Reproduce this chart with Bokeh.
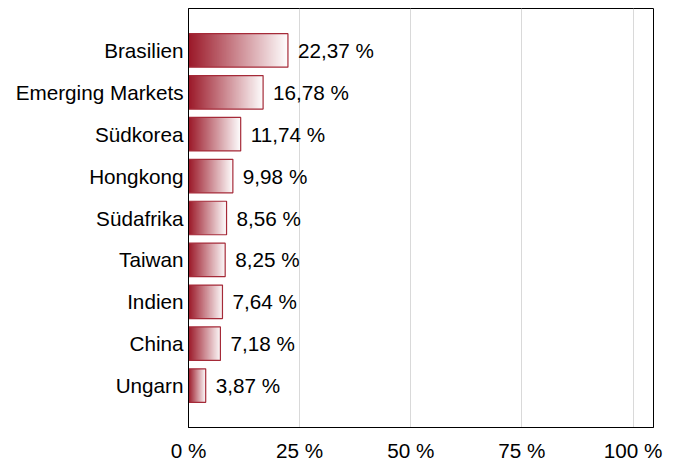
import numpy as np
from bokeh.plotting import figure
from bokeh.models import ColumnDataSource, Range1d, FixedTicker
from bokeh.core.properties import value
from bokeh.embed import file_html
from bokeh.resources import INLINE

categories = ["Brasilien", "Emerging Markets", "Südkorea", "Hongkong", "Südafrika",
              "Taiwan", "Indien", "China", "Ungarn"]
values = [22.37, 16.78, 11.74, 9.98, 8.56, 8.25, 7.64, 7.18, 3.87]
value_labels = ["22,37 %", "16,78 %", "11,74 %", "9,98 %", "8,56 %",
                "8,25 %", "7,64 %", "7,18 %", "3,87 %"]
x_ticks = [0, 25, 50, 75, 100]
x_tick_labels = ["0 %", "25 %", "50 %", "75 %", "100 %"]

FONT = "Liberation Sans"
FS = "20.7px"
dark = (155, 24, 40)
light = (255, 255, 255)
border = "#a52a38"
BAR_H = 0.8

n = len(categories)
ypos = [n - i for i in range(n)]

# horizontal gradient image (dark -> white)
M = 256
t = np.linspace(0, 1, M)
img = np.empty((1, M), dtype=np.uint32)
view = img.view(dtype=np.uint8).reshape((1, M, 4))
for k in range(3):
    view[0, :, k] = np.round(dark[k] + (light[k] - dark[k]) * t).astype(np.uint8)
view[0, :, 3] = 255

imgs = ColumnDataSource(dict(
    image=[img] * n,
    x=[0] * n,
    y=[yv - BAR_H / 2 for yv in ypos],
    dw=values,
    dh=[BAR_H] * n,
))
bars = ColumnDataSource(dict(y=ypos, v=values, lab=value_labels))

p = figure(output_backend="svg", toolbar_location=None,
           frame_width=465, frame_height=419,
           x_range=Range1d(0, 104.6), y_range=Range1d(0, 10),
           min_border_left=188, min_border_right=15, min_border_top=8,
           min_border_bottom=10)

p.image_rgba(image="image", x="x", y="y", dw="dw", dh="dh", source=imgs)
p.hbar(y="y", left=0, right="v", height=BAR_H, fill_color=None,
       line_color=border, line_width=1.2, source=bars)
p.text(x="v", y="y", text="lab", source=bars, x_offset=10,
       text_baseline="middle", text_align="left",
       text_font=value(FONT), text_font_size=FS, text_color="black")

p.xaxis.ticker = FixedTicker(ticks=x_ticks)
p.xaxis.major_label_overrides = {t_: l for t_, l in zip(x_ticks, x_tick_labels)}
p.yaxis.ticker = FixedTicker(ticks=ypos)
p.yaxis.major_label_overrides = {y: c for y, c in zip(ypos, categories)}

for ax in (p.xaxis[0], p.yaxis[0]):
    ax.major_tick_line_color = None
    ax.minor_tick_line_color = None
    ax.major_tick_out = 0
    ax.major_tick_in = 0
    ax.axis_line_color = "black"
    ax.axis_line_width = 1
    ax.major_label_text_font = FONT
    ax.major_label_text_font_size = FS
    ax.major_label_text_color = "black"
p.yaxis.major_label_standoff = 5
p.xaxis.major_label_standoff = 11

p.ygrid.grid_line_color = None
p.xgrid.grid_line_color = "#d9d9d9"
p.xgrid.ticker = FixedTicker(ticks=x_ticks[1:])
p.outline_line_color = "black"
p.outline_line_width = 1
p.background_fill_color = "white"
p.border_fill_color = "white"

open("out.html", "w").write(file_html(p, INLINE))
